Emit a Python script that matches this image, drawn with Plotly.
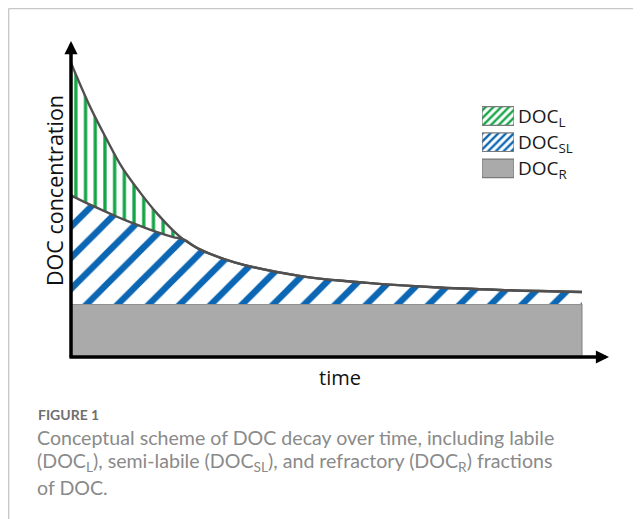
import plotly.graph_objects as go

# ---------------- data (arbitrary units) ----------------
time = [0, 0.35, 0.7, 1.0, 1.35, 1.7, 2.0, 2.2, 2.5, 3.2, 4.5, 5.8, 7.1, 8.4, 10]
doc_total = [10.0, 8.6, 7.4, 6.45, 5.6, 4.85, 4.3, 4.0, 3.68, 3.22, 2.75, 2.52, 2.37, 2.28, 2.21]
doc_sl_top = [5.5, 5.2, 4.93, 4.7, 4.46, 4.24, 4.08, 4.0, 3.68, 3.22, 2.75, 2.52, 2.37, 2.28, 2.21]
time_r = [0, 10]
doc_r = [1.8, 1.8]

legend_labels = ["DOC<sub>L</sub>", "DOC<sub>SL</sub>", "DOC<sub>R</sub>"]
x_title = "time"
y_title = "DOC concentration"
fig_label = "FIGURE 1"
caption_lines = [
    "Conceptual scheme of DOC decay over time, including labile",
    "(DOC<sub>L</sub>), semi-labile (DOC<sub>SL</sub>), and refractory (DOC<sub>R</sub>) fractions",
    "of DOC.",
]

# ---------------- styling ----------------
PAGE_OFFSET = 8                     # default body margin of the html page
W, H = 641 - PAGE_OFFSET, 519 - PAGE_OFFSET
L_PX, R_PX, T_PX, B_PX = 71, 612, 40, 357   # plot area in screen pixels
X_UNIT_PX = 51.1
Y_UNIT_PX = 29.4
GREEN = "#12a545"
BLUE = "#0b66b3"
GRAY_FILL = "#aaaaaa"
GRAY_EDGE = "#808080"
CURVE = "#505050"
FONT = "Open Sans"


def px_x(p):
    return (p - L_PX) / (R_PX - L_PX)


def px_y(p):
    return (B_PX - p) / (B_PX - T_PX)


fig = go.Figure()

# refractory block
rx = [time_r[0], time_r[-1], time_r[-1], time_r[0], time_r[0]]
ry = [0, 0, doc_r[-1], doc_r[0], 0]
fig.add_trace(go.Scatter(x=rx, y=ry, mode="lines", fill="toself",
                         fillcolor=GRAY_FILL, line=dict(color=GRAY_EDGE, width=1),
                         showlegend=False, hoverinfo="skip"))

# semi-labile region (between refractory level and semi-labile top)
base_sl = [doc_r[0] for _ in time]
fig.add_trace(go.Scatter(x=time, y=base_sl, mode="lines", line=dict(width=0, shape="spline"),
                         showlegend=False, hoverinfo="skip"))
fig.add_trace(go.Scatter(x=time, y=doc_sl_top, mode="lines", fill="tonexty",
                         fillcolor="white",
                         fillpattern=dict(shape="/", fgcolor=BLUE, bgcolor="white",
                                          fgopacity=1, fillmode="replace",
                                          size=22, solidity=0.29),
                         line=dict(width=0, shape="spline"),
                         showlegend=False, hoverinfo="skip"))
# labile region
fig.add_trace(go.Scatter(x=time, y=doc_total, mode="lines", fill="tonexty",
                         fillcolor="white",
                         fillpattern=dict(shape="|", fgcolor=GREEN, bgcolor="white",
                                          fgopacity=1, fillmode="replace",
                                          size=9.7, solidity=0.34),
                         line=dict(width=0, shape="spline"),
                         showlegend=False, hoverinfo="skip"))
# curves
fig.add_trace(go.Scatter(x=time, y=doc_sl_top, mode="lines",
                         line=dict(color=CURVE, width=2.4, shape="spline"),
                         showlegend=False, hoverinfo="skip"))
fig.add_trace(go.Scatter(x=time, y=doc_total, mode="lines",
                         line=dict(color=CURVE, width=2.4, shape="spline"),
                         showlegend=False, hoverinfo="skip"))

# legend keys on a small inset axis
legend_patterns = [
    dict(shape="/", fgcolor=GREEN, bgcolor="white", fgopacity=1, size=5.5, solidity=0.42),
    dict(shape="/", fgcolor=BLUE, bgcolor="white", fgopacity=1, size=5.5, solidity=0.42),
    None,
]
for i, pat in enumerate(legend_patterns):
    marker = dict(color="white" if pat else GRAY_FILL, opacity=1,
                  line=dict(color="#7a7a7a", width=1.2))
    if pat:
        marker["pattern"] = pat
    fig.add_trace(go.Bar(x=[1], y=[i], base=0, width=0.71, orientation="h",
                         xaxis="x2", yaxis="y2", marker=marker,
                         showlegend=False, hoverinfo="skip"))

LEG_X0, LEG_X1 = 482, 514
LEG_ROW0, LEG_PITCH = 116, 26.2
annotations = []
for i, lab in enumerate(legend_labels):
    annotations.append(dict(xref="paper", yref="paper", x=px_x(516), y=px_y(LEG_ROW0 + LEG_PITCH * i + 1),
                            text=lab, showarrow=False, xanchor="left", yanchor="middle",
                            font=dict(family=FONT, size=19, color="#1a1a1a")))

# axes with arrows
annotations.append(dict(xref="paper", yref="paper", x=px_x(609), y=px_y(357), ax=-541, ay=0,
                        axref="pixel", ayref="pixel", text="", showarrow=True,
                        arrowhead=2, arrowsize=0.75, arrowwidth=3.5, arrowcolor="black", standoff=0))
annotations.append(dict(xref="paper", yref="paper", x=px_x(71), y=px_y(41), ax=0, ay=318,
                        axref="pixel", ayref="pixel", text="", showarrow=True,
                        arrowhead=2, arrowsize=0.75, arrowwidth=3.5, arrowcolor="black", standoff=0))
# axis titles
annotations.append(dict(xref="paper", yref="paper", x=px_x(340), y=px_y(377), text=x_title,
                        showarrow=False, font=dict(family=FONT, size=20, color="#111111"),
                        xanchor="center", yanchor="middle"))
annotations.append(dict(xref="paper", yref="paper", x=px_x(54), y=px_y(191), text=y_title,
                        textangle=-90, showarrow=False,
                        font=dict(family=FONT, size=21.5, color="#111111"),
                        xanchor="center", yanchor="middle"))
# caption
annotations.append(dict(xref="paper", yref="paper", x=px_x(36), y=px_y(414), text="<b>" + fig_label + "</b>",
                        showarrow=False, font=dict(family="Lato", size=14, color="#6f6f6f"),
                        xanchor="left", yanchor="middle"))
for i, line in enumerate(caption_lines):
    annotations.append(dict(xref="paper", yref="paper", x=px_x(35), y=px_y(437 + 25 * i), text=line,
                            showarrow=False, font=dict(family="Lato", size=19.6, color="#8a8a8a"),
                            xanchor="left", yanchor="middle"))

shapes = [
    dict(type="line", xref="paper", yref="paper", x0=px_x(8.6), x1=px_x(8.6), y0=px_y(8.6), y1=px_y(530),
         line=dict(color="#c8c8c8", width=1.5)),
    dict(type="line", xref="paper", yref="paper", x0=px_x(8.6), x1=px_x(650), y0=px_y(8.6), y1=px_y(8.6),
         line=dict(color="#c8c8c8", width=1.5)),
]

fig.update_layout(
    width=W, height=H,
    margin=dict(l=L_PX - PAGE_OFFSET, r=W - (R_PX - PAGE_OFFSET),
                t=T_PX - PAGE_OFFSET, b=H - (B_PX - PAGE_OFFSET), pad=0),
    paper_bgcolor="white", plot_bgcolor="rgba(0,0,0,0)",
    xaxis=dict(range=[0, (R_PX - L_PX) / X_UNIT_PX], visible=False, fixedrange=True),
    yaxis=dict(range=[0, (B_PX - T_PX) / Y_UNIT_PX], visible=False, fixedrange=True),
    xaxis2=dict(domain=[px_x(LEG_X0), px_x(LEG_X1)], range=[0, 1], visible=False,
                fixedrange=True, anchor="y2"),
    yaxis2=dict(domain=[px_y(LEG_ROW0 + 2.5 * LEG_PITCH), px_y(LEG_ROW0 - 0.5 * LEG_PITCH)],
                range=[2.5, -0.5], visible=False, fixedrange=True, anchor="x2"),
    showlegend=False,
    annotations=annotations,
    shapes=shapes,
)

fig.write_html("out.html")
